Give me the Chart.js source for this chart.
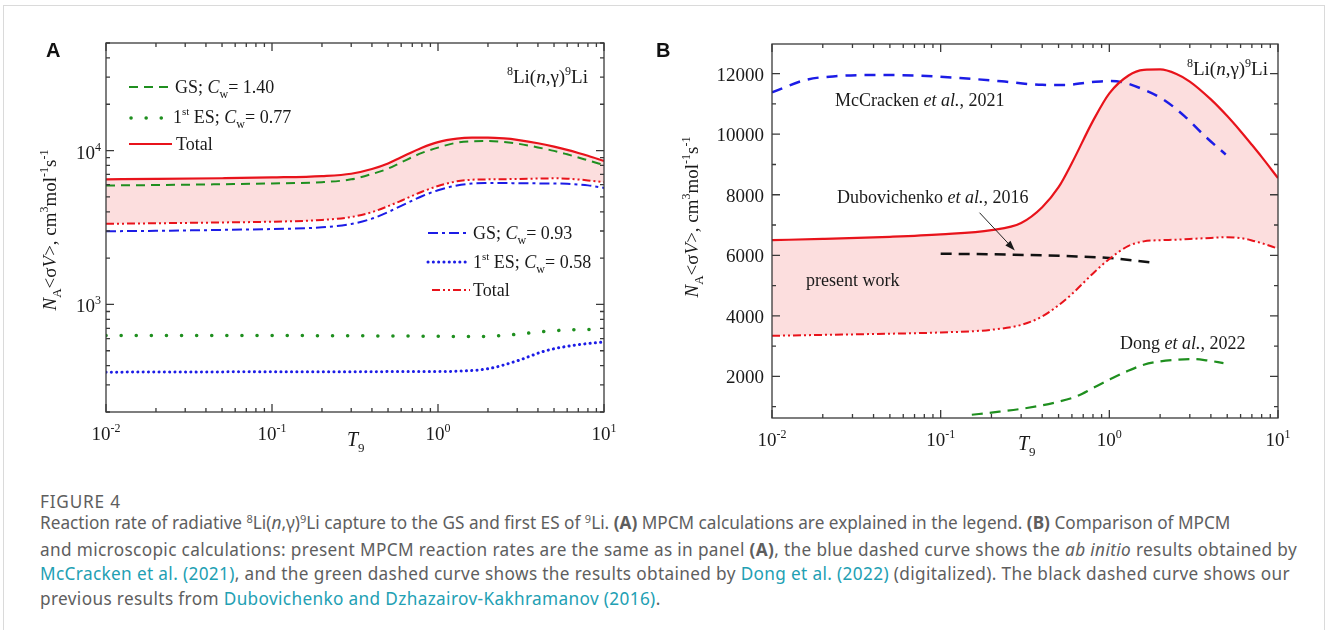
<!DOCTYPE html>
<html lang="en">
<head>
<meta charset="UTF-8">
<title>Figure 4</title>
<script src="https://cdn.jsdelivr.net/npm/chart.js@4.4.1/dist/chart.umd.min.js"></script>
<style>
  body { margin: 0; background: #fff; width: 1328px; height: 630px; overflow: hidden; position: relative; }
  #card { position: absolute; left: 3px; top: 5px; width: 1320px; height: 660px; border: 1px solid #dadada; }
  canvas { position: absolute; top: 0; }
  .lab { position: absolute; font: bold 20px "Liberation Sans", Arial, sans-serif; line-height: 20px; color: #111; }
  .cap { position: absolute; left: 40px; font: 17.2px "Noto Sans", sans-serif; color: #5e5e5e; white-space: nowrap; line-height: 24.7px; }
  .cap a { color: #22a0b3; text-decoration: none; }
  .wide { letter-spacing: 0.36px; }
  .sup { font-size: 11px; position: relative; top: -6px; }
</style>
</head>
<body>
<div id="card"></div>
<canvas id="chartA" width="664" height="460" style="left:0"></canvas>
<canvas id="chartB" width="664" height="460" style="left:664px"></canvas>
<div class="lab" style="left:46px;top:40px">A</div>
<div class="lab" style="left:656px;top:40px">B</div>
<div class="cap" style="top:490px;letter-spacing:0.8px">FIGURE 4</div>
<div class="cap" style="top:511px">
Reaction rate of radiative <span class="sup">8</span>Li(<i>n</i>,γ)<span class="sup">9</span>Li capture to the GS and first ES of <span class="sup">9</span>Li. <b>(A)</b> MPCM calculations are explained in the legend. <b>(B)</b> Comparison of MPCM<br>
<span class="wide">and microscopic calculations: present MPCM reaction rates are the same as in panel <b>(A)</b>, the blue dashed curve shows the <i>ab initio</i> results obtained by</span><br>
<span class="wide"><a>McCracken et al. (2021)</a>, and the green dashed curve shows the results obtained by <a>Dong et al. (2022)</a> (digitalized). The black dashed curve shows our</span><br>
<span class="wide">previous results from <a>Dubovichenko and Dzhazairov-Kakhramanov (2016)</a>.</span>
</div>
<script>
// present MPCM rates (both panels)
const T9 = [0.01, 0.02, 0.05, 0.1, 0.2, 0.3, 0.4, 0.5, 0.6, 0.8, 1.0, 1.3, 1.6, 2.0, 2.5, 3, 4, 5, 6, 7, 8, 10];
const totalUpper = [6500, 6540, 6610, 6690, 6830, 7070, 7590, 8250, 9050, 10440, 11350, 11940, 12125, 12140, 11990, 11740, 11150, 10600, 10100, 9650, 9250, 8550];
const totalLower = [3340, 3370, 3410, 3450, 3540, 3700, 3980, 4350, 4720, 5400, 5880, 6310, 6460, 6500, 6515, 6540, 6575, 6600, 6570, 6490, 6400, 6220];
const gsGreen = [5930, 5970, 6040, 6110, 6230, 6500, 7040, 7630, 8380, 9650, 10450, 11250, 11500, 11530, 11360, 11100, 10480, 9950, 9450, 9020, 8640, 8050];
const gsBlue = [2990, 3010, 3050, 3090, 3170, 3330, 3610, 3980, 4370, 5050, 5520, 5930, 6100, 6150, 6160, 6130, 6120, 6110, 6080, 6020, 5940, 5720];

const esT9 = [0.01, 0.03, 0.1, 0.3, 0.5, 1.0, 1.3, 2.0, 3.0, 4.4, 6.5, 10];
const esGreen = [629, 629, 628, 626, 624, 621, 618, 621, 640, 668, 685, 688];
const esBlue = [363, 364, 365, 365, 366, 366, 368, 382, 430, 498, 542, 570];

// other works (panel B)
const mcT9 = [0.01, 0.016, 0.023, 0.04, 0.07, 0.13, 0.23, 0.4, 0.55, 0.75, 1.0, 1.2, 1.6, 2.1, 2.8, 3.7, 4.9];
const mcRate = [11384, 11800, 11910, 11956, 11940, 11857, 11747, 11630, 11626, 11710, 11758, 11715, 11472, 11140, 10590, 9930, 9330];
const dbT9 = [0.1, 0.27, 0.64, 1.0, 1.74];
const dbRate = [6053, 6020, 5963, 5910, 5765];
const dgT9 = [0.153, 0.205, 0.324, 0.51, 0.64, 0.8, 1.0, 1.27, 1.6, 2.0, 2.5, 3.15, 3.8, 4.75];
const dgRate = [733, 810, 955, 1175, 1340, 1615, 1890, 2165, 2385, 2495, 2550, 2573, 2527, 2440];

// ticks
const xTicks = [0.01, 0.1, 1, 10];
const xTickExp = ['-2', '-1', '0', '1'];
const yTicksA = [1000, 10000];
const yTickExpA = ['3', '4'];
const yTicksB = [2000, 4000, 6000, 8000, 10000, 12000];

const SERIF = '"Liberation Serif", "Times New Roman", serif';
const RED = '#e8131b', GREEN = '#1f8f1f', BLUE = '#1c1ce6';

function pts(xs, ys) { return xs.map((x, i) => ({ x: x, y: ys[i] })); }
function line(data, color, dash, width, extra) {
  return Object.assign({ data: data, borderColor: color, borderDash: dash, borderWidth: width,
    showLine: true, pointRadius: 0, cubicInterpolationMode: 'monotone', fill: false }, extra || {});
}

// draw text made of pieces: [text, {i: italic, s: size, dy: shift}]
function rich(ctx, x, y, parts, align, base) {
  base = base || 19;
  let w = 0;
  const items = parts.map(p => {
    const o = p[1] || {};
    const f = (o.i ? 'italic ' : '') + (o.s || base) + 'px ' + SERIF;
    ctx.font = f;
    const m = ctx.measureText(p[0]).width;
    w += m;
    return { t: p[0], f: f, m: m, dy: o.dy || 0 };
  });
  let cx = align === 'right' ? x - w : align === 'center' ? x - w / 2 : x;
  items.forEach(it => { ctx.font = it.f; ctx.fillText(it.t, cx, y + it.dy); cx += it.m; });
}

function drawFrame(c, yMajor, yMinor) {
  const ctx = c.ctx, a = c.chartArea, x = c.scales.x, y = c.scales.y;
  ctx.save();
  ctx.setLineDash([]);
  ctx.strokeStyle = '#3a3a3a';
  ctx.lineWidth = 1.3;
  ctx.strokeRect(a.left, a.top, a.right - a.left, a.bottom - a.top);
  ctx.beginPath();
  const xt = (v, len) => {
    const p = x.getPixelForValue(v);
    ctx.moveTo(p, a.bottom); ctx.lineTo(p, a.bottom - len);
    ctx.moveTo(p, a.top); ctx.lineTo(p, a.top + len);
  };
  const yt = (v, len) => {
    const p = y.getPixelForValue(v);
    ctx.moveTo(a.left, p); ctx.lineTo(a.left + len, p);
    ctx.moveTo(a.right, p); ctx.lineTo(a.right - len, p);
  };
  xTicks.forEach(v => xt(v, 8));
  xTicks.slice(0, -1).forEach(d => { for (let k = 2; k < 10; k++) xt(d * k, 4); });
  yMajor.forEach(v => yt(v, 8));
  yMinor.forEach(v => yt(v, 4));
  ctx.stroke();
  ctx.restore();
}

function xLabels(c, base) {
  const ctx = c.ctx, x = c.scales.x;
  ctx.fillStyle = '#1a1a1a';
  xTicks.forEach((v, i) => rich(ctx, x.getPixelForValue(v), base, [['10'], [xTickExp[i], { s: 12, dy: -8 }]], 'center'));
}

function yTitle(ctx, cx, cy) {
  ctx.save();
  ctx.translate(cx, cy);
  ctx.rotate(-Math.PI / 2);
  rich(ctx, 0, 6, [['N', { i: 1 }], ['A', { s: 13, dy: 5 }], ['<σ'], ['V', { i: 1 }], ['>, cm'],
    ['3', { s: 12, dy: -8 }], ['mol'], ['-1', { s: 12, dy: -8 }], ['s'], ['-1', { s: 12, dy: -8 }]], 'center');
  ctx.restore();
}

function legendLine(ctx, x0, x1, y, color, dash, width, cap) {
  ctx.save();
  ctx.strokeStyle = color; ctx.lineWidth = width; ctx.setLineDash(dash); ctx.lineCap = cap || 'butt';
  ctx.beginPath(); ctx.moveTo(x0, y); ctx.lineTo(x1, y); ctx.stroke();
  ctx.restore();
}

const reaction = [['8', { s: 12, dy: -8 }], ['Li('], ['n', { i: 1 }], [',γ)'], ['9', { s: 12, dy: -8 }], ['Li']];

const baseOptions = (pad, yScale) => ({
  responsive: false, animation: false, devicePixelRatio: 1,
  layout: { padding: pad },
  plugins: { legend: { display: false }, tooltip: { enabled: false }, filler: { drawTime: 'beforeDatasetsDraw' } },
  elements: { line: { borderJoinStyle: 'round' } },
  scales: {
    x: { type: 'logarithmic', min: 0.01, max: 10, display: false },
    y: Object.assign({ display: false }, yScale)
  }
});

// ---------- panel A ----------
const yMinorA = [];
[100, 1000, 10000].forEach(d => { for (let k = 2; k < 10; k++) if (d * k >= 200 && d * k <= 50000) yMinorA.push(d * k); });

const decorA = {
  id: 'decorA',
  afterDraw(c) {
    const ctx = c.ctx, y = c.scales.y;
    drawFrame(c, yTicksA, yMinorA);
    ctx.save();
    ctx.fillStyle = '#1a1a1a';
    xLabels(c, 440);
    yTicksA.forEach((v, i) => rich(ctx, 101, y.getPixelForValue(v) + 8, [['10'], [yTickExpA[i], { s: 12, dy: -8 }]], 'right'));
    rich(ctx, 347, 446, [['T', { i: 1, s: 20 }], ['9', { s: 13, dy: 6 }]], 'left');
    yTitle(ctx, 50, 230);
    rich(ctx, 588, 83, reaction, 'right');
    // legend 1
    legendLine(ctx, 129, 170, 87, GREEN, [9, 6], 2);
    legendLine(ctx, 131, 166, 118, GREEN, [0.1, 15], 3.5, 'round');
    legendLine(ctx, 129, 172, 144, RED, [], 2.2);
    rich(ctx, 175, 93, [['GS; '], ['C', { i: 1 }], ['w', { s: 12, dy: 5 }], ['= 1.40']], 'left', 18);
    rich(ctx, 173, 123, [['1'], ['st', { s: 11, dy: -8 }], [' ES; '], ['C', { i: 1 }], ['w', { s: 12, dy: 5 }], ['= 0.77']], 'left', 18);
    rich(ctx, 176, 150, [['Total']], 'left', 18);
    // legend 2
    legendLine(ctx, 428, 470, 233, BLUE, [10, 4, 3, 4], 2);
    legendLine(ctx, 428, 466, 262, BLUE, [0.1, 5.2], 3, 'round');
    legendLine(ctx, 432, 470, 290, RED, [8, 3, 2, 3, 2, 3], 2);
    rich(ctx, 473, 239, [['GS; '], ['C', { i: 1 }], ['w', { s: 12, dy: 5 }], ['= 0.93']], 'left', 18);
    rich(ctx, 473, 268, [['1'], ['st', { s: 11, dy: -8 }], [' ES; '], ['C', { i: 1 }], ['w', { s: 12, dy: 5 }], ['= 0.58']], 'left', 18);
    rich(ctx, 473, 296, [['Total']], 'left', 18);
    ctx.restore();
  }
};

new Chart(document.getElementById('chartA'), {
  type: 'scatter',
  data: {
    datasets: [
      line(pts(T9, totalUpper), RED, [], 2.2, { fill: 2, backgroundColor: '#fcdede' }),
      line(pts(T9, gsGreen), GREEN, [9, 6], 2),
      line(pts(T9, totalLower), RED, [8, 3, 2, 3, 2, 3], 2),
      line(pts(T9, gsBlue), BLUE, [10, 4, 3, 4], 2),
      line(pts(esT9, esGreen), GREEN, [0.1, 15], 3.5, { borderCapStyle: 'round' }),
      line(pts(esT9, esBlue), BLUE, [0.1, 5.2], 3, { borderCapStyle: 'round' })
    ]
  },
  options: baseOptions({ left: 106, top: 43, right: 60, bottom: 48 }, { type: 'logarithmic', min: 200, max: 50000 }),
  plugins: [decorA]
});

// ---------- panel B ----------
const yMinorB = [1000, 3000, 5000, 7000, 9000, 11000];

const decorB = {
  id: 'decorB',
  afterDraw(c) {
    const ctx = c.ctx, x = c.scales.x, y = c.scales.y;
    drawFrame(c, yTicksB, yMinorB);
    ctx.save();
    ctx.fillStyle = '#1a1a1a';
    xLabels(c, 446);
    yTicksB.forEach(v => rich(ctx, 100, y.getPixelForValue(v) + 7, [[String(v)]], 'right'));
    rich(ctx, 354, 450, [['T', { i: 1, s: 20 }], ['9', { s: 13, dy: 6 }]], 'left');
    yTitle(ctx, 28, 217);
    rich(ctx, 604, 75, reaction, 'right');
    rich(ctx, 171, 106, [['McCracken '], ['et al.', { i: 1 }], [', 2021']], 'left', 18);
    rich(ctx, 173, 203, [['Dubovichenko '], ['et al.', { i: 1 }], [', 2016']], 'left', 18);
    rich(ctx, 142, 286, [['present work']], 'left', 18);
    rich(ctx, 456, 349, [['Dong '], ['et al.', { i: 1 }], [', 2022']], 'left', 18);
    // arrow to Dubovichenko curve
    const x0 = x.getPixelForValue(0.17), y0 = y.getPixelForValue(7407);
    const x1 = x.getPixelForValue(0.275), y1 = y.getPixelForValue(6162);
    const ang = Math.atan2(y1 - y0, x1 - x0);
    ctx.strokeStyle = '#222'; ctx.lineWidth = 1; ctx.setLineDash([]);
    ctx.beginPath(); ctx.moveTo(x0, y0); ctx.lineTo(x1 - 6 * Math.cos(ang), y1 - 6 * Math.sin(ang)); ctx.stroke();
    ctx.beginPath();
    ctx.moveTo(x1, y1);
    ctx.lineTo(x1 - 10 * Math.cos(ang) + 3.5 * Math.sin(ang), y1 - 10 * Math.sin(ang) - 3.5 * Math.cos(ang));
    ctx.lineTo(x1 - 10 * Math.cos(ang) - 3.5 * Math.sin(ang), y1 - 10 * Math.sin(ang) + 3.5 * Math.cos(ang));
    ctx.closePath(); ctx.fill();
    ctx.restore();
  }
};

new Chart(document.getElementById('chartB'), {
  type: 'scatter',
  data: {
    datasets: [
      line(pts(T9, totalUpper), RED, [], 2.2, { fill: 1, backgroundColor: '#fcdede' }),
      line(pts(T9, totalLower), RED, [8, 3, 2, 3, 2, 3], 2),
      line(pts(mcT9, mcRate), BLUE, [11, 8], 2.5),
      line(pts(dbT9, dbRate), '#111', [11, 7], 2.5),
      line(pts(dgT9, dgRate), GREEN, [11, 7], 2.2)
    ]
  },
  options: baseOptions({ left: 108, top: 44, right: 50, bottom: 42 }, { type: 'linear', min: 625, max: 12980 }),
  plugins: [decorB]
});
</script>
</body>
</html>
